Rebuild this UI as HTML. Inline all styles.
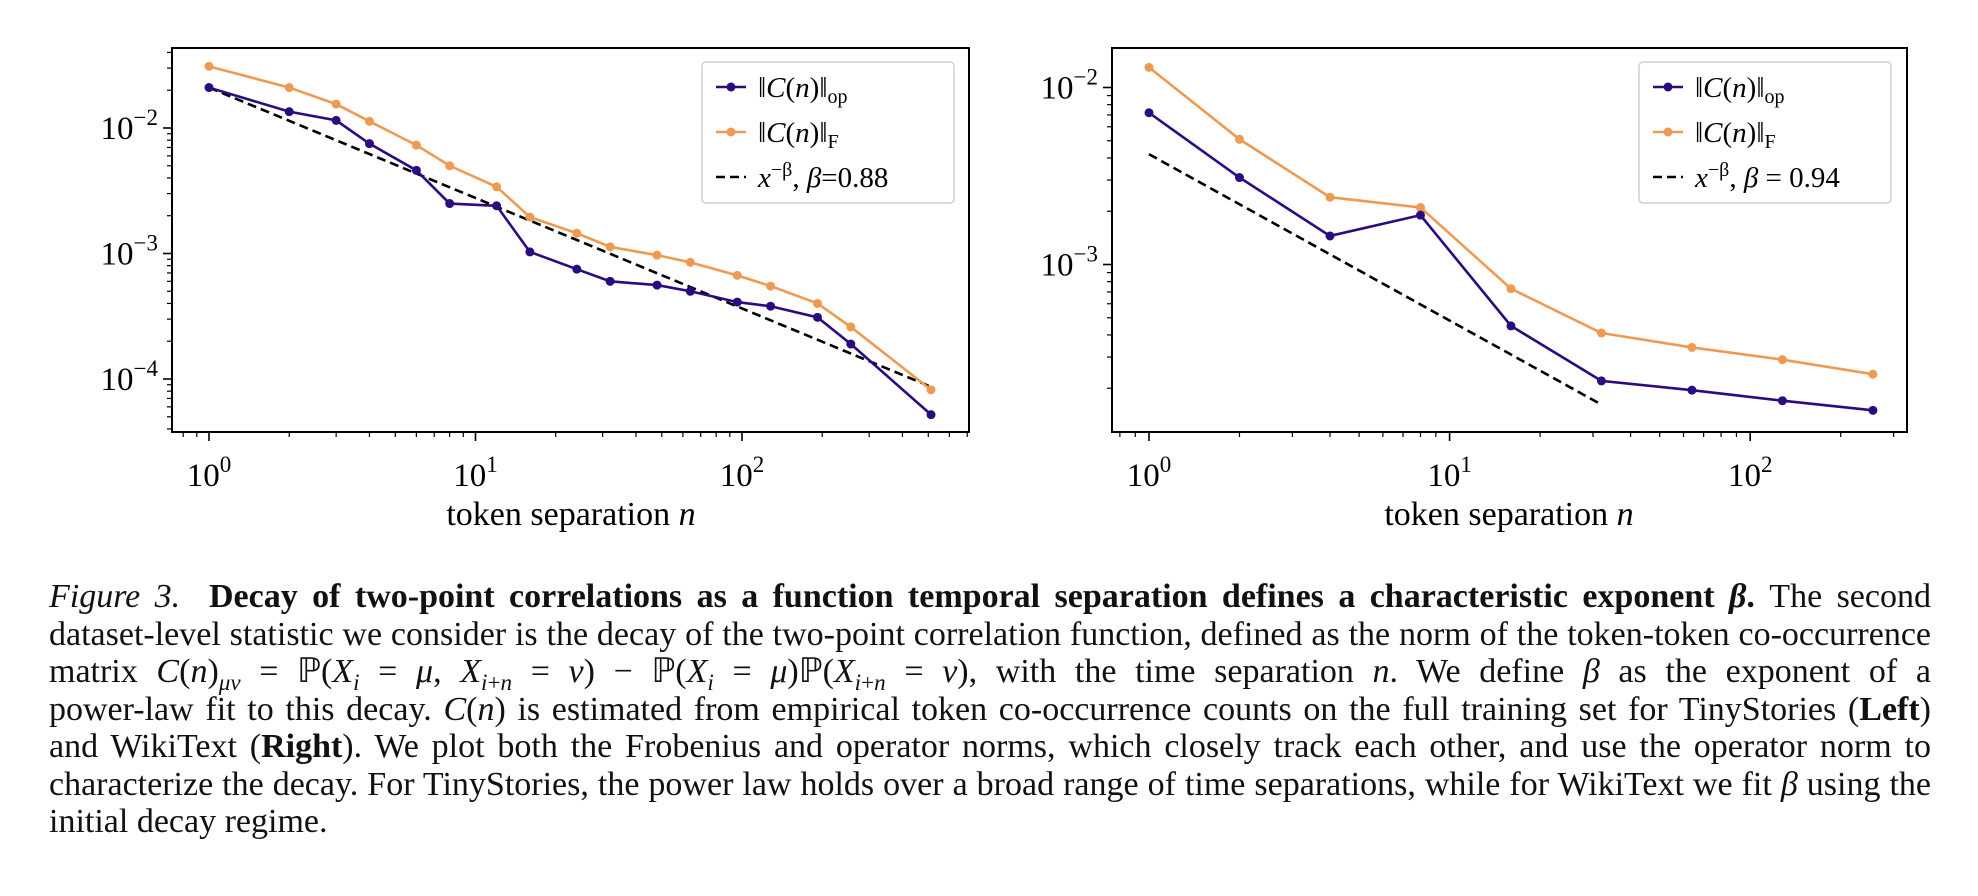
<!DOCTYPE html>
<html><head><meta charset="utf-8">
<style>
body{margin:0;background:#fff;width:1978px;height:896px;overflow:hidden;position:relative;font-family:"Liberation Serif",serif;}
#charts{position:absolute;left:0;top:0}
.cap{position:absolute;left:49px;width:1882px;font-size:34px;line-height:37.5px;color:#111}
.cap div{text-align:justify;text-align-last:justify;white-space:nowrap;height:37.5px}
.cap div.last{text-align-last:left}
sub{font-size:0.68em;line-height:0}
i{font-style:italic}
</style></head><body>
<svg id="charts" width="1978" height="560"></svg>
<div class="cap" style="top:578px">
<div><i>Figure 3.</i>&nbsp; <b>Decay of two-point correlations as a function temporal separation defines a characteristic exponent <i>β</i>.</b> The second</div>
<div>dataset-level statistic we consider is the decay of the two-point correlation function, defined as the norm of the token-token co-occurrence</div>
<div>matrix <i>C</i>(<i>n</i>)<sub><i>μν</i></sub> = ℙ(<i>X</i><sub><i>i</i></sub> = <i>μ</i>, <i>X</i><sub><i>i</i>+<i>n</i></sub> = <i>ν</i>) − ℙ(<i>X</i><sub><i>i</i></sub> = <i>μ</i>)ℙ(<i>X</i><sub><i>i</i>+<i>n</i></sub> = <i>ν</i>), with the time separation <i>n</i>. We define <i>β</i> as the exponent of a</div>
<div>power-law fit to this decay. <i>C</i>(<i>n</i>) is estimated from empirical token co-occurrence counts on the full training set for TinyStories (<b>Left</b>)</div>
<div>and WikiText (<b>Right</b>). We plot both the Frobenius and operator norms, which closely track each other, and use the operator norm to</div>
<div>characterize the decay. For TinyStories, the power law holds over a broad range of time separations, while for WikiText we fit <i>β</i> using the</div>
<div class="last">initial decay regime.</div>
</div>
<script>
// Left panel data (TinyStories)
const leftN = [1,2,3,4,6,8,12,16,24,32,48,64,96,128,192,256,512];
const leftOp = [0.021,0.0135,0.0115,0.0075,0.0046,0.0025,0.0024,0.00103,0.00075,0.0006,0.00056,0.0005,0.00041,0.00038,0.00031,0.00019,0.000052];
const leftF = [0.031,0.021,0.0155,0.0113,0.0073,0.005,0.0034,0.00195,0.00145,0.00113,0.00097,0.00085,0.00067,0.00055,0.0004,0.00026,0.000082];
const leftFit = {amp:0.021, beta:0.88, from:1, to:512};
// Right panel data (WikiText)
const rightN = [1,2,4,8,16,32,64,128,256];
const rightOp = [0.0072,0.0031,0.00145,0.0019,0.00045,0.00022,0.000195,0.00017,0.00015];
const rightF = [0.013,0.0051,0.0024,0.0021,0.00073,0.00041,0.00034,0.00029,0.00024];
const rightFit = {amp:0.0042, beta:0.94, from:1, to:32};
const xTickExps = [0,1,2];
const leftYTickExps = [-2,-3,-4];
const rightYTickExps = [-2,-3];
const legendFitLeft = "=0.88";
const legendFitRight = " = 0.94";

const NS='http://www.w3.org/2000/svg';
const svg=document.getElementById('charts');
function mk(tag,attrs,parent){const e=document.createElementNS(NS,tag);for(const k in attrs)e.setAttribute(k,attrs[k]);(parent||svg).appendChild(e);return e;}
const OP='#2b0b80', FC='#ef9a52';

function panel(cfg){
  const g=mk('g',{});
  
  
  const sx=v=>cfg.x0+(Math.log10(v))*cfg.xd;
  const sy=v=>cfg.y0+(-2-Math.log10(v))*cfg.yd;
  const L=cfg.L,R=cfg.R,T=48,B=432;
  const cid='clip'+cfg.name;
  const cp=mk('clipPath',{id:cid},g);mk('rect',{x:L,y:T,width:R-L,height:B-T},cp);
  const plot=mk('g',{'clip-path':'url(#'+cid+')'},g);
  const fit=mk('line',{x1:sx(cfg.fit.from),y1:sy(cfg.fit.amp*Math.pow(cfg.fit.from,-cfg.fit.beta)),x2:sx(cfg.fit.to),y2:sy(cfg.fit.amp*Math.pow(cfg.fit.to,-cfg.fit.beta)),stroke:'#000','stroke-width':2.6,'stroke-dasharray':'9,5'},plot);
  
  
  function series(vals,col,nm){
    const pts=cfg.n.map((n,i)=>sx(n)+','+sy(vals[i])).join(' ');
    const pl=mk('polyline',{points:pts,fill:'none',stroke:col,'stroke-width':2.6},plot);
    
    
    cfg.n.forEach((n,i)=>{const c=mk('circle',{cx:sx(n),cy:sy(vals[i]),r:4.5,fill:col},plot);
      
      });
  }
  series(cfg.F,FC,'frobenius-norm');
  series(cfg.op,OP,'operator-norm');
  mk('rect',{x:L,y:T,width:R-L,height:B-T,fill:'none',stroke:'#000','stroke-width':2},g);
  for(let d=-1;d<=3;d++)for(let m=1;m<10;m++){const v=m*Math.pow(10,d);const x=sx(v);if(x<L||x>R)continue;
    mk('line',{x1:x,y1:B,x2:x,y2:B+(m==1?9:5),stroke:'#000','stroke-width':m==1?1.6:1.2},g);}
  xTickExps.forEach(e=>{const t=mk('text',{x:sx(Math.pow(10,e)),y:B+54,'text-anchor':'middle','font-size':33,'font-family':'Liberation Serif, serif'},g);
    
    
    t.innerHTML='10<tspan dy="-14" font-size="23">'+e+'</tspan>';});
  for(let d=-6;d<=-1;d++)for(let m=1;m<10;m++){const v=m*Math.pow(10,d);const y=sy(v);if(y<T||y>B)continue;
    mk('line',{x1:L,y1:y,x2:L-(m==1?9:5),y2:y,stroke:'#000','stroke-width':m==1?1.6:1.2},g);}
  cfg.yt.forEach(e=>{const t=mk('text',{x:L-14,y:sy(Math.pow(10,e))+11,'text-anchor':'end','font-size':33,'font-family':'Liberation Serif, serif'},g);
    
    
    t.innerHTML='10<tspan dy="-14" font-size="23">−'+(-e)+'</tspan>';});
  const xl=mk('text',{x:cfg.xlab,y:525,'text-anchor':'middle','font-size':34,'font-family':'Liberation Serif, serif'},g);
  
  
  xl.innerHTML='token separation <tspan font-style="italic">n</tspan>';
  const lg=mk('g',{},g);
  
  
  const lx=cfg.lx;
  mk('rect',{x:lx,y:62,width:252,height:141,rx:4,fill:'#fff',stroke:'#d0d0d0','stroke-width':1.5},lg);
  const rows=[[OP,'solid','op'],[FC,'solid','F'],['#000','dash','']];
  rows.forEach((r,i)=>{const y=87+i*45;
    if(r[1]=='dash'){mk('line',{x1:lx+14,y1:y,x2:lx+44,y2:y,stroke:'#000','stroke-width':2.6,'stroke-dasharray':'9,5'},lg);}
    else{mk('line',{x1:lx+14,y1:y,x2:lx+44,y2:y,stroke:r[0],'stroke-width':2.6},lg);mk('circle',{cx:lx+29,cy:y,r:4.5,fill:r[0]},lg);}
    const t=mk('text',{x:lx+56,y:y+10,'font-size':29,'font-family':'Liberation Serif, serif'},lg);
    
    
    if(r[2])t.innerHTML='‖<tspan font-style="italic">C</tspan>(<tspan font-style="italic">n</tspan>)‖<tspan dy="6" font-size="20">'+r[2]+'</tspan>';
    else t.innerHTML='<tspan font-style="italic">x</tspan><tspan dy="-11" font-size="20">−β</tspan><tspan dy="11">, </tspan><tspan font-style="italic">β</tspan>'+cfg.lfit;
  });
}
panel({name:'left-panel',x0:209,xd:266.5,y0:128,yd:125.5,L:172,R:969,n:leftN,op:leftOp,F:leftF,fit:leftFit,yt:leftYTickExps,xlab:571,lx:702,lfit:legendFitLeft});
panel({name:'right-panel',x0:1149,xd:300.6,y0:87.5,yd:177,L:1112,R:1907,n:rightN,op:rightOp,F:rightF,fit:rightFit,yt:rightYTickExps,xlab:1509,lx:1639,lfit:legendFitRight});
// shrink caption if any line overflows
(function(){const cap=document.querySelector('.cap');let fs=34;
  const fits=()=>[...cap.children].every(d=>d.scrollWidth<=1882);
  while(!fits()&&fs>24){fs-=0.5;cap.style.fontSize=fs+'px';}})();
</script>
</body></html>
